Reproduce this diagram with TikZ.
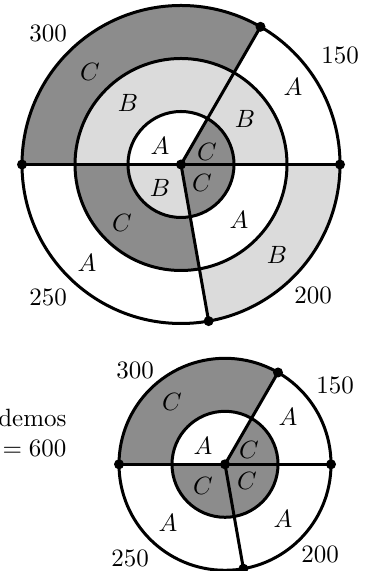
\documentclass[tikz,border=0pt]{standalone}
\usepackage{tikz}
\usetikzlibrary{calc}
\definecolor{cDark}{gray}{0.55}
\definecolor{cLight}{gray}{0.86}
\tikzset{
  ring/.style ={draw=black,line width=1.2pt},
  cut/.style  ={draw=black,line width=1.2pt},
  pt/.style   ={circle,fill=black,inner sep=0pt,minimum size=4pt},
  lab/.style  ={inner sep=1pt},
  num/.style  ={inner sep=1pt},
}
% ring sector: centre, inner r, outer r, from, to, colour
\newcommand{\sect}[6]{%
  \fill[#6] ($(#1)+(#4:#2)$) arc[start angle=#4,end angle=#5,radius=#2]
    -- ($(#1)+(#5:#3)$) arc[start angle=#5,end angle=#4,radius=#3] -- cycle;}
% inner sector (pie slice)
\newcommand{\pie}[5]{%
  \fill[#5] (#1) -- ($(#1)+(#3:#2)$) arc[start angle=#3,end angle=#4,radius=#2] -- cycle;}

\begin{document}
\begin{tikzpicture}[x=0.4pt,y=0.4pt]
\useasboundingbox (0,0) rectangle (368,571);

% ---- upper diagram
\coordinate (T) at (181,406.5);
\sect{T}{106}{159}{60}{180}{cDark}
\sect{T}{106}{159}{280}{360}{cLight}
\sect{T}{53}{106}{0}{180}{cLight}
\sect{T}{53}{106}{180}{280}{cDark}
\pie{T}{53}{0}{60}{cDark}
\pie{T}{53}{180}{280}{cLight}
\pie{T}{53}{280}{360}{cDark}

\foreach \r in {53,106,159}{
  \draw[ring] (T) circle[radius=\r];
}

\node[pt] (tc) at (T) {};
\node[pt] (tw) at ($(T)+(180:159)$) {};
\node[pt] (te) at ($(T)+(0:159)$) {};
\node[pt] (tn) at ($(T)+(60:159)$) {};
\node[pt] (ts) at ($(T)+(280:159)$) {};
\draw[cut] (tw.center) -- (te.center);
\draw[cut] (tc.center) -- (tn.center);
\draw[cut] (tc.center) -- (ts.center);

\node[num] (t300) at (48,537.5) {300};
\node[num] (t150) at (340,516) {150};
\node[num] (t250) at (48,274) {250};
\node[num] (t200) at (313,276) {200};

\node[lab] (toC)  at (90,499)  {$C$};
\node[lab] (toA)  at (293,484) {$A$};
\node[lab] (tmB1) at (128,468) {$B$};
\node[lab] (tmB2) at (245,452) {$B$};
\node[lab] (tiA)  at (160,425) {$A$};
\node[lab] (tiC1) at (207,419) {$C$};
\node[lab] (tiB)  at (160,383) {$B$};
\node[lab] (tiC2) at (202,388) {$C$};
\node[lab] (tmC)  at (122,348) {$C$};
\node[lab] (tmA)  at (239,351) {$A$};
\node[lab] (toA2) at (87,308)  {$A$};
\node[lab] (toB)  at (277,316) {$B$};

% ---- lower diagram
\coordinate (L) at (225,106.7);
\sect{L}{53}{106}{60}{180}{cDark}
\pie{L}{53}{180}{420}{cDark}

\foreach \r in {53,106}{
  \draw[ring] (L) circle[radius=\r];
}

\node[pt] (lc) at (L) {};
\node[pt] (lw) at ($(L)+(180:106)$) {};
\node[pt] (le) at ($(L)+(0:106)$) {};
\node[pt] (ln) at ($(L)+(60:106)$) {};
\node[pt] (ls) at ($(L)+(280:106)$) {};
\draw[cut] (lw.center) -- (le.center);
\draw[cut] (lc.center) -- (ln.center);
\draw[cut] (lc.center) -- (ls.center);

\node[num] (l300) at (135,201) {300};
\node[num] (l150) at (335,186) {150};
\node[num] (l250) at (130,13)  {250};
\node[num] (l200) at (320,17)  {200};

\node[lab] (loC)  at (172,169) {$C$};
\node[lab] (loA)  at (288,154) {$A$};
\node[lab] (liA)  at (203,125) {$A$};
\node[lab] (liC1) at (249,121) {$C$};
\node[lab] (liC2) at (203,85)  {$C$};
\node[lab] (liC3) at (247,90)  {$C$};
\node[lab] (loA2) at (168,48)  {$A$};
\node[lab] (loA3) at (283,52)  {$A$};

\node[align=right,anchor=east,inner sep=0pt] (note) at (67,138) {demos\\$=600$};
\end{tikzpicture}
\end{document}
